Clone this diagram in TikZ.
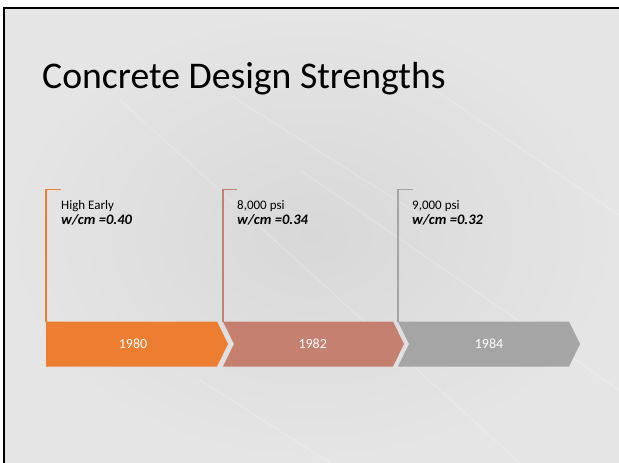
\documentclass[tikz,border=0pt]{standalone}
\usepackage{fontspec}
\setmainfont{Carlito}
\usetikzlibrary{positioning}
\definecolor{tlOrange}{HTML}{ED7D31}
\definecolor{tlRose}{HTML}{C5806F}
\definecolor{tlGrey}{HTML}{A5A5A5}
\definecolor{bgIn}{HTML}{D9D8D8}
\definecolor{bgOut}{HTML}{E6E5E5}

\begin{document}
\begin{tikzpicture}[x=1pt,y=-1pt,
    yr/.style={inner sep=0pt,text=white,font=\fontsize{14}{16}\selectfont},
    note/.style={anchor=north west,align=left,inner sep=0pt,
                 font=\fontsize{13}{16}\selectfont},
    tick/.style={line width=1.3pt}]
    \useasboundingbox (0,0) rectangle (619,463);
    % slide frame and backdrop
    \shade[inner color=bgIn,outer color=bgOut] (5,9.5) rectangle (619,463);
    \begin{scope}[white,opacity=.22,line width=1pt]
      \draw (200,380) -- (330,463);
      \draw (120,100) -- (520,463);
      \draw (300,170) -- (619,390);
      \draw (420,80) -- (619,215);
      \draw (230,95) -- (420,215);
    \end{scope}
    \draw[line width=2.5pt] (4,463) |- (619,8);
    \node[anchor=base west,inner sep=0pt,font=\fontsize{37.7}{44}\selectfont] (title) at (42,88) {Concrete Design Strengths};

    % timeline chevrons
    \fill[tlOrange] (46,321.5) coordinate (c1) -- (217,321.5) -- (228,344) -- (217,366.5) -- (46,366.5) -- cycle;
    \fill[tlRose] (223,321.5) coordinate (c2) -- (393,321.5) -- (404,344) -- (393,366.5) -- (223,366.5) -- (234,344) -- cycle;
    \fill[tlGrey] (398,321.5) coordinate (c3) -- (569,321.5) -- (580,344) -- (569,366.5) -- (398,366.5) -- (409,344) -- cycle;
    \node[yr] (y1) at (133,344)   {1980};
    \node[yr] (y2) at (312.7,344) {1982};
    \node[yr] (y3) at (489,344)   {1984};

    \coordinate (k1) at (60.7,189.3);
    \coordinate (k2) at (236.7,189.3);
    \coordinate (k3) at (412.7,189.3);
    \draw[tick,tlOrange] (c1) |- (k1);
    \draw[tick,tlRose]   (c2) |- (k2);
    \draw[tick,tlGrey]   (c3) |- (k3);

    \node[note] (n1) at (61,200.5)  {High Early\\[-1pt]{\fontsize{14.5}{16}\selectfont\textbf{\textit{w/cm =0.40}}}};
    \node[note] (n2) at (237,200.5) {8,000 psi\\[-1pt]{\fontsize{14.5}{16}\selectfont\textbf{\textit{w/cm =0.34}}}};
    \node[note] (n3) at (412,200.5) {9,000 psi\\[-1pt]{\fontsize{14.5}{16}\selectfont\textbf{\textit{w/cm =0.32}}}};
  \end{tikzpicture}
\end{document}
